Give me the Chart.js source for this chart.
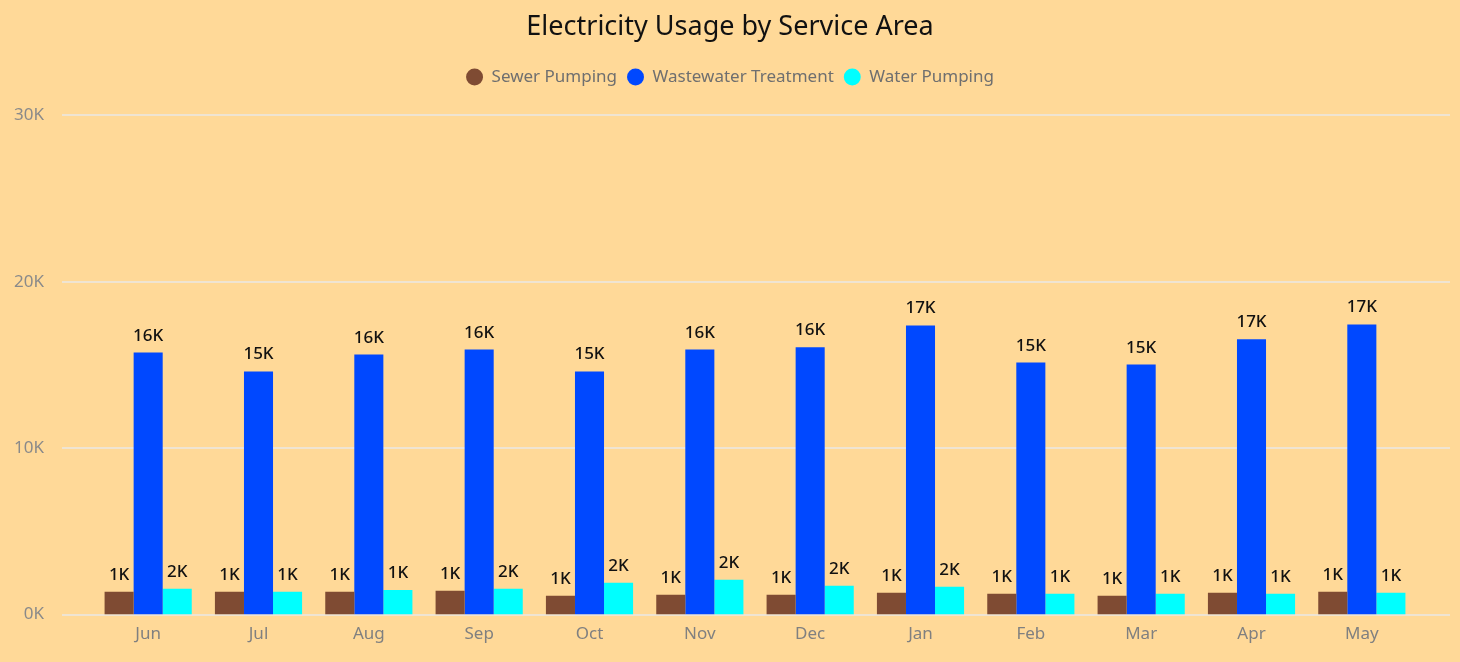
<!DOCTYPE html>
<html>
<head>
<meta charset="utf-8">
<script src="https://cdn.jsdelivr.net/npm/chart.js@4"></script>
<style>
    html, body { margin: 0; padding: 0; background: #FFD998; }
    #wrap { width: 1460px; height: 662px; }
</style>
</head>
<body>
<div id="wrap"><canvas id="usage"></canvas></div>
<script>
const months = ['Jun', 'Jul', 'Aug', 'Sep', 'Oct', 'Nov', 'Dec', 'Jan', 'Feb', 'Mar', 'Apr', 'May'];
const sewerPumping = [1380, 1380, 1380, 1440, 1140, 1200, 1200, 1320, 1260, 1140, 1320, 1380];
const wastewaterTreatment = [15750, 14610, 15630, 15930, 14610, 15930, 16060, 17380, 15150, 15030, 16540, 17440];
const waterPumping = [1560, 1380, 1480, 1560, 1920, 2100, 1740, 1680, 1260, 1260, 1260, 1320];
const yTicks = [0, 10000, 20000, 30000];

function kLabel(v) {
    return Math.round(v / 1000) + 'K';
}

// Gridlines in the original run wider than the category band
const wideGrid = {
    id: 'wideGrid',
    beforeDatasetsDraw(chart) {
        const ctx = chart.ctx;
        const y = chart.scales.y;
        ctx.save();
        ctx.strokeStyle = '#EFE4D2';
        ctx.lineWidth = 2;
        yTicks.forEach(t => {
            const py = Math.round(y.getPixelForValue(t));
            ctx.beginPath();
            ctx.moveTo(62, py);
            ctx.lineTo(1450, py);
            ctx.stroke();
        });
        ctx.restore();
    }
};

// Value labels above each bar
const barLabels = {
    id: 'barLabels',
    afterDatasetsDraw(chart) {
        const ctx = chart.ctx;
        ctx.save();
        ctx.fillStyle = '#111';
        ctx.font = '500 17px "Noto Sans"';
        ctx.textAlign = 'center';
        ctx.textBaseline = 'alphabetic';
        chart.data.datasets.forEach((ds, i) => {
            chart.getDatasetMeta(i).data.forEach((bar, j) => {
                ctx.fillText(kLabel(ds.data[j]), bar.x, bar.y - 12);
            });
        });
        ctx.restore();
    }
};

// Extra space under the legend
const legendGap = {
    id: 'legendGap',
    beforeInit(chart) {
        const fit = chart.legend.fit;
        chart.legend.fit = function() {
            fit.bind(chart.legend)();
            this.height += 20;
        };
    }
};

const canvas = document.getElementById('usage');
new Chart(canvas, {
    type: 'bar',
    data: {
        labels: months,
        datasets: [{
            label: 'Sewer Pumping',
            data: sewerPumping,
            backgroundColor: '#7F4B33'
        }, {
            label: 'Wastewater Treatment',
            data: wastewaterTreatment,
            backgroundColor: '#0048FF'
        }, {
            label: 'Water Pumping',
            data: waterPumping,
            backgroundColor: '#00FFFF'
        }]
    },
    options: {
        responsive: true,
        maintainAspectRatio: false,
        animation: false,
        layout: { padding: { left: 0, right: 0, bottom: 9, top: 0 } },
        datasets: {
            bar: { categoryPercentage: 0.79, barPercentage: 1.0 }
        },
        plugins: {
            title: {
                display: true,
                text: 'Electricity Usage by Service Area',
                color: '#111',
                font: { family: '"Noto Sans"', size: 27, weight: 'normal' },
                padding: { top: 11, bottom: 15 }
            },
            legend: {
                labels: {
                    usePointStyle: true,
                    pointStyle: 'circle',
                    boxHeight: 12,
                    color: '#6f6f6f',
                    font: { family: '"Noto Sans"', size: 17 },
                    padding: 10
                }
            },
            tooltip: { enabled: false }
        },
        scales: {
            x: {
                grid: { display: false, drawTicks: false },
                border: { display: false },
                ticks: {
                    color: '#808080',
                    font: { family: '"Noto Sans"', size: 17 },
                    padding: 9
                }
            },
            y: {
                min: 0,
                max: 30000,
                afterFit(scale) {
                    scale.width = 93;
                    // the wide label padding should not push the plot up
                    scale.paddingTop = 10;
                    scale.paddingBottom = 10;
                },
                afterBuildTicks(scale) { scale.ticks = yTicks.map(v => ({ value: v })); },
                grid: { display: false, drawTicks: false },
                border: { display: false },
                ticks: {
                    color: '#8a8a8a',
                    font: { family: '"Noto Sans"', size: 17 },
                    padding: 49,
                    callback: v => kLabel(v)
                }
            },
            // empty right axis, only keeps the bars clear of the right edge
            yRight: {
                position: 'right',
                min: 0,
                max: 30000,
                afterFit(scale) { scale.width = 43; },
                grid: { display: false, drawTicks: false },
                border: { display: false },
                ticks: { display: false }
            }
        }
    },
    plugins: [wideGrid, barLabels, legendGap]
});
</script>
</body>
</html>
